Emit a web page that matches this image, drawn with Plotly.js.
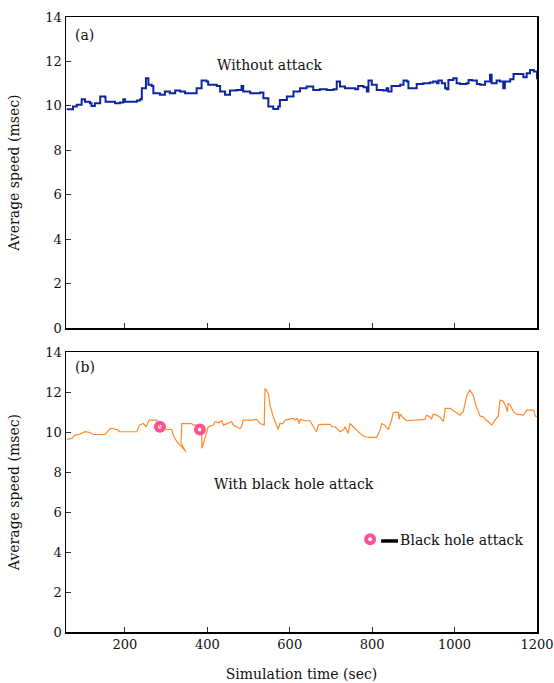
<!DOCTYPE html>
<html>
<head>
<meta charset="utf-8">
<script src="https://cdn.plot.ly/plotly-3.0.1.min.js"></script>
<style>html,body{margin:0;padding:0;background:#fff;}#chart{width:554px;height:683px;}</style>
</head>
<body>
<div id="chart"></div>
<script>
// (a) Without attack
const timeA = [59,74,83,95,103,115,119,127,140,152,153,172,176,188,196,200,229,237,241,251,257,265,269,285,297,309,322,334,346,362,374,386,398,402,423,431,443,455,471,483,487,504,528,536,548,560,572,576,593,609,625,641,657,673,690,706,714,722,734,759,766,779,787,791,799,811,827,835,839,847,868,876,884,888,900,908,924,940,948,957,961,969,977,981,985,997,1005,1013,1029,1034,1042,1054,1062,1074,1086,1090,1102,1110,1118,1122,1135,1143,1155,1167,1175,1183,1192,1200];
const speedA = [9.85,9.97,10.05,10.30,10.19,10.12,10.0,10.12,10.42,10.39,10.19,10.19,10.12,10.15,10.30,10.19,10.24,10.30,10.80,11.25,10.95,10.9,10.57,10.5,10.65,10.57,10.69,10.65,10.57,10.57,10.8,11.14,11.1,10.95,10.9,10.65,10.5,10.69,10.72,10.9,10.65,10.57,10.6,10.35,9.97,9.86,9.97,10.27,10.42,10.65,10.8,10.87,10.72,10.75,10.72,10.75,11.1,10.87,10.8,10.75,10.9,10.84,10.65,11.14,10.95,10.72,10.69,10.8,10.65,10.9,10.95,11.14,11.1,10.8,10.8,10.99,11.02,11.05,11.1,11.02,11.14,11.02,10.8,10.75,11.17,11.25,11.02,10.99,11.02,11.17,11.14,10.99,10.95,11.1,11.4,11.02,11.14,11.1,10.8,11.1,11.2,11.44,11.44,11.29,11.47,11.62,11.55,11.2];

// (b) With black hole attack
const timeB = [59,71,79,91,103,115,123,152,164,170,184,186,229,235,245,251,259,277,285,301,314,317,326,342,348,336,338,362,366,374,386,387,398,402,415,419,427,435,439,451,459,463,479,483,487,508,520,528,538,540,548,552,560,568,572,576,583,589,601,609,613,618,623,625,637,649,661,665,669,678,698,702,710,714,722,730,734,742,746,754,763,775,783,795,811,819,823,831,839,847,851,860,864,865,868,876,884,900,928,932,940,944,948,957,965,973,977,989,1001,1013,1021,1030,1037,1045,1054,1062,1070,1074,1082,1090,1098,1106,1110,1117,1122,1128,1130,1135,1143,1151,1167,1175,1192,1196,1200];
const speedB = [9.64,9.69,9.85,9.9,10.02,9.98,9.88,9.88,10.18,10.18,10.1,10.02,10.02,10.35,10.43,10.27,10.6,10.6,10.27,10.13,10.13,9.85,9.52,9.19,9.02,9.44,10.43,10.43,10.35,10.35,10.27,9.19,9.94,10.27,10.35,10.52,10.47,10.57,10.35,10.43,10.52,10.35,10.18,10.27,10.6,10.6,10.64,10.43,10.35,12.19,11.94,11.35,10.77,10.35,10.13,10.43,10.43,10.6,10.64,10.69,10.6,10.69,10.43,10.64,10.57,10.57,10.13,10.02,10.35,10.39,10.39,10.27,10.27,10.18,10.02,10.1,10.27,9.94,10.43,10.27,10.1,9.85,9.77,9.74,9.74,10.1,10.43,10.35,10.13,10.6,10.97,11.0,10.97,10.64,10.9,10.69,10.57,10.6,10.64,10.84,10.77,10.64,10.9,10.85,10.74,10.52,11.19,11.19,11.02,10.85,11.02,11.85,12.1,11.85,11.19,10.8,10.77,10.64,10.52,10.35,10.6,10.8,11.6,11.57,11.4,11.02,11.44,11.35,11.02,10.9,10.85,11.1,11.1,10.8,10.77];

// Black hole attack events
const attackTime = [285, 382];
const attackSpeed = [10.27, 10.13];

const yTicks = [0,2,4,6,8,10,12,14];
const xTicks = [200,400,600,800,1000,1200];

const FONT = 'DejaVu Serif';
const FS = 14;
const TFS = 13;
const PINK = '#ff4f97';

const traces = [
  {x: timeA, y: speedA, xaxis:'x', yaxis:'y', mode:'lines', line:{color:'#0f24a0', width:2, shape:'hv'}, showlegend:false, hoverinfo:'skip'},
  {x: timeB, y: speedB, xaxis:'x2', yaxis:'y2', mode:'lines', line:{color:'#ff8a2a', width:1.2}, showlegend:false, hoverinfo:'skip'},
  {x: attackTime, y: attackSpeed, xaxis:'x2', yaxis:'y2', mode:'markers', name:'Black hole attack',
   marker:{symbol:'circle-open', size:8, color:PINK, line:{color:PINK, width:4}}, showlegend:true}
];

const axisCommon = {
  showline:true, mirror:true, linecolor:'#000', linewidth:1.5,
  ticks:'inside', ticklen:5, tickcolor:'#333', tickwidth:1,
  showgrid:false, zeroline:false, ticklabeloverflow:'allow',
  tickfont:{family:FONT, size:TFS, color:'#111'}
};

const layout = {
  width:554, height:683,
  margin:{l:66, r:17, t:17, b:51},
  paper_bgcolor:'#fff', plot_bgcolor:'#fff',
  font:{family:FONT, size:FS, color:'#111'},
  xaxis: Object.assign({}, axisCommon, {anchor:'y', range:[57,1200], tickvals:xTicks, showticklabels:false, matches:'x2'}),
  yaxis: Object.assign({}, axisCommon, {anchor:'x', domain:[0.494,1], range:[0,14], tickvals:yTicks,
    title:{text:'Average speed (msec)', font:{family:FONT, size:FS, color:'#111'}, standoff:22}}),
  xaxis2: Object.assign({}, axisCommon, {anchor:'y2', range:[57,1200], tickvals:xTicks,
    title:{text:'Simulation time (sec)', font:{family:FONT, size:FS, color:'#111'}, standoff:18}}),
  yaxis2: Object.assign({}, axisCommon, {anchor:'x2', domain:[0,0.455], range:[0,14], tickvals:yTicks,
    title:{text:'Average speed (msec)', font:{family:FONT, size:FS, color:'#111'}, standoff:22}}),
  showlegend:true,
  legend:{x:0.582, y:0.15, xanchor:'left', yanchor:'middle', bgcolor:'rgba(0,0,0,0)', borderwidth:0,
    itemwidth:50, font:{family:FONT, size:FS, color:'#111'}},
  annotations:[
    {text:'(a)', xref:'paper', yref:'paper', x:0.015, y:0.971, xanchor:'left', yanchor:'middle', showarrow:false, font:{family:FONT, size:FS, color:'#111'}},
    {text:'Without attack', xref:'paper', yref:'paper', x:0.433, y:0.922, xanchor:'center', yanchor:'middle', showarrow:false, font:{family:FONT, size:FS, color:'#111'}},
    {text:'(b)', xref:'paper', yref:'paper', x:0.015, y:0.431, xanchor:'left', yanchor:'middle', showarrow:false, font:{family:FONT, size:FS, color:'#111'}},
    {text:'With black hole attack', xref:'paper', yref:'paper', x:0.484, y:0.241, xanchor:'center', yanchor:'middle', showarrow:false, font:{family:FONT, size:FS, color:'#111'}}
  ],
  shapes:[
    {type:'line', xref:'paper', yref:'paper', x0:0.669, x1:0.705, y0:0.148, y1:0.148, line:{color:'#000', width:3.5}}
  ]
};

Plotly.newPlot('chart', traces, layout, {displayModeBar:false, staticPlot:true});
</script>
</body>
</html>
